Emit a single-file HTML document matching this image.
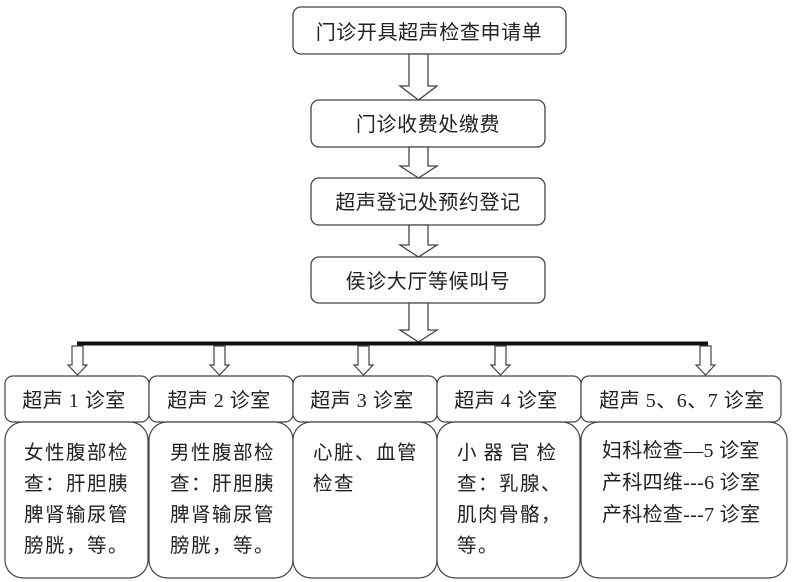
<!DOCTYPE html>
<html><head><meta charset="utf-8"><style>
html,body{margin:0;padding:0;background:#fff;}
svg{display:block;}
text{font-family:"Liberation Serif","Noto Sans CJK SC",serif;fill:#222;}
</style></head><body>
<svg width="792" height="582" viewBox="0 0 792 582" xmlns="http://www.w3.org/2000/svg">
<g fill="#fff" stroke="#444" stroke-width="1.3">
<rect x="293" y="7" width="273" height="47" rx="8"/>
<rect x="311" y="100" width="234" height="47" rx="8"/>
<rect x="311" y="178" width="234" height="47" rx="8"/>
<rect x="311" y="257" width="234" height="46" rx="8"/>
<polygon points="409,54 428,54 428,86 437,86 418.5,100 400,86 409,86"/>
<polygon points="409,147 428,147 428,166 437,166 418.5,178 400,166 409,166"/>
<polygon points="409,225 428,225 428,245 437,245 418.5,257 400,245 409,245"/>
<polygon points="409,303 428,303 428,330 437,330 418.5,342 400,330 409,330"/>
</g>
<rect x="77" y="341.5" width="631" height="4" fill="#111"/>
<g fill="#fff" stroke="#444" stroke-width="1.2">
<polygon points="72,346 83,346 83,365 87,365 77.5,375 68,365 72,365"/>
<polygon points="214,346 225,346 225,365 229,365 219.5,375 210,365 214,365"/>
<polygon points="358,346 369,346 369,365 373,365 363.5,375 354,365 358,365"/>
<polygon points="495,346 506,346 506,365 510,365 500.5,375 491,365 495,365"/>
<polygon points="700,346 711,346 711,365 715,365 705.5,375 696,365 700,365"/>
<rect x="5" y="376" width="144" height="46" rx="8"/>
<rect x="149" y="376" width="144" height="46" rx="8"/>
<rect x="293" y="376" width="144" height="46" rx="8"/>
<rect x="437" y="376" width="144" height="46" rx="8"/>
<rect x="581" y="376" width="200" height="46" rx="8"/>
<rect x="5" y="422" width="143" height="156" rx="18"/>
<rect x="149" y="422" width="144" height="156" rx="18"/>
<rect x="293" y="422" width="144" height="156" rx="18"/>
<rect x="437" y="422" width="143" height="156" rx="18"/>
<rect x="581" y="422" width="206" height="156" rx="18"/>
</g>
<g font-size="20" text-anchor="middle" letter-spacing="0.6">
<text x="429" y="39">门诊开具超声检查申请单</text>
<text x="428" y="131">门诊收费处缴费</text>
<text x="428" y="209">超声登记处预约登记</text>
<text x="428" y="288">侯诊大厅等候叫号</text>
</g>
<g font-size="20" text-anchor="middle" letter-spacing="0.5">
<text x="74" y="407">超声 1 诊室</text>
<text x="219" y="407">超声 2 诊室</text>
<text x="362" y="407">超声 3 诊室</text>
<text x="506" y="407">超声 4 诊室</text>
<text x="682" y="407">超声 5、6、7 诊室</text>
</g>
<g font-size="19.5" letter-spacing="1.5">
<text x="24" y="459">女性腹部检</text>
<text x="24" y="490">查：肝胆胰</text>
<text x="24" y="521">脾肾输尿管</text>
<text x="24" y="552">膀胱，等。</text>
<text x="170" y="459">男性腹部检</text>
<text x="170" y="490">查：肝胆胰</text>
<text x="170" y="521">脾肾输尿管</text>
<text x="170" y="552">膀胱，等。</text>
<text x="313" y="459">心脏、血管</text>
<text x="313" y="490">检查</text>
<text x="457" y="459" letter-spacing="7">小器官检</text>
<text x="457" y="490">查：乳腺、</text>
<text x="457" y="521">肌肉骨骼，</text>
<text x="457" y="552">等。</text>
</g>
<g font-size="20" letter-spacing="0.3">
<text x="602" y="457">妇科检查—5 诊室</text>
<text x="602" y="489">产科四维---6 诊室</text>
<text x="602" y="521">产科检查---7 诊室</text>
</g>
</svg>
</body></html>
